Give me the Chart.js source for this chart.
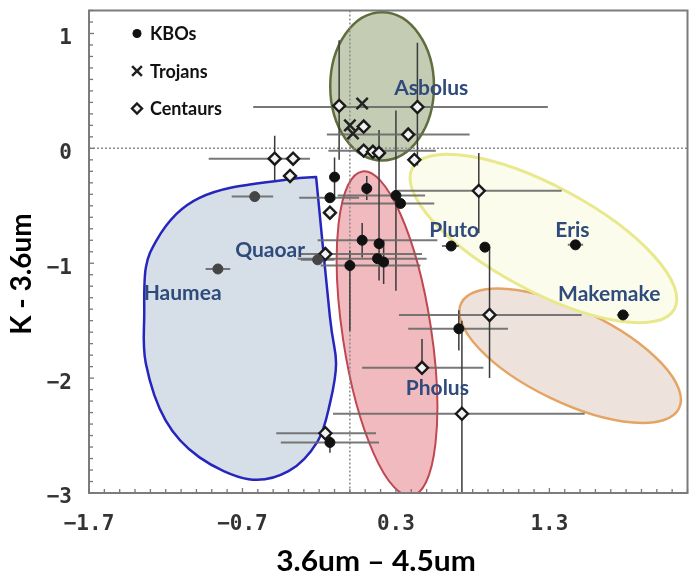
<!DOCTYPE html>
<html><head><meta charset="utf-8">
<script src="https://cdn.jsdelivr.net/npm/chart.js@4.4.0/dist/chart.umd.min.js"></script>
<style>html,body{margin:0;padding:0;background:#fff}</style>
</head><body>
<canvas id="c" width="698" height="580"></canvas>
<script>
// ---------- DATA ----------
// KBOs (filled circles)
const kboX   = [-0.10,-0.13, 0.11, 0.30, 0.33, 0.08, 0.19, 0.00, 0.18, 0.22, 0.66, 0.88, 1.47, 1.78, 0.71,-0.86,-0.21,-0.62,-0.13];
const kboY   = [-0.25,-0.43,-0.35,-0.41,-0.48,-0.80,-0.83,-1.02,-0.96,-0.99,-0.85,-0.86,-0.84,-1.45,-1.57,-1.05,-0.97,-0.42,-2.56];
const kboXLo = [ null,-0.33, null,-0.08,-0.05,-0.21, null,-0.19,-0.34, null, 0.60, null, 1.42, 1.74, 0.38,-0.94,-0.32,-0.77,-0.45];
const kboXHi = [ null, 0.06, null, 0.49, 0.55, 0.57, null, 0.46, 0.50, null, 0.71, null, 1.52, 1.82, 1.03,-0.78,-0.10,-0.50, 0.19];
const kboYLo = [-0.45, null,-0.45,-1.24, null,-0.95,-1.15,-1.59, null,-1.18, null, null, null, null,-1.76, null, null, null,-2.65];
const kboYHi = [-0.08, null,-0.24, 0.33, null,-0.65, 0.16,-0.89, null,-0.80, null, null, null, null,-1.41, null, null, null,-2.47];

// Trojans (crosses)
const troX = [0.08, 0.00, 0.02];
const troY = [0.39, 0.20, 0.13];

// Centaurs (diamonds)
const cenX   = [-0.07, 0.44, 0.38, 0.09, 0.09, 0.15, 0.19, 0.42, 0.84,-0.49,-0.37,-0.39,-0.13,-0.16, 0.91, 0.47, 0.73,-0.16];
const cenY   = [ 0.37, 0.36, 0.12, 0.19,-0.02,-0.03,-0.04,-0.10,-0.37,-0.09,-0.09,-0.24,-0.56,-0.92,-1.45,-1.91,-2.31,-2.48];
const cenXLo = [ null,-0.63,-0.15, null,-0.14, null, null, null, 0.31,-0.92, null, null, null,-0.32, 0.32, 0.08,-0.11,-0.48];
const cenXHi = [ null, 1.29, 0.78, null, 0.56, null, null, null, 1.38,-0.26, null, null, null, 0.47, 1.51, 0.87, 1.53, 0.17];
const cenYLo = [-0.10,-0.15, null, null, null, null, null, null,-0.74,-0.28, null, null, null, null,-2.00,-1.91,-3.00, null];
const cenYHi = [ 0.94, 0.92, null, null, null, null, null, null,-0.04, 0.11, null, null, null, null,-0.86,-1.66,-1.50, null];

// Object name labels (data coordinates)
const nameText = ['Asbolus','Quaoar','Haumea','Pluto','Eris','Makemake','Pholus'];
const nameX    = [0.53, -0.52, -1.09, 0.68, 1.45, 1.69, 0.57];
const nameY    = [0.52, -0.89, -1.26, -0.71, -0.71, -1.27, -2.09];

// Tick labels
const xTickLabels = [-1.7, -0.7, 0.3, 1.3];
const yTickLabels = [-3, -2, -1, 0, 1];

// Axis titles
const xTitle = '3.6um \u2013 4.5um';
const yTitle = 'K - 3.6um';

// Haumea region outline (data coordinates)
const haumeaX = [-0.22,-0.13,-0.09,-0.13,-0.21,-0.40,-0.66,-0.98,-1.20,-1.33,-1.34,-1.33,-1.26,-1.13,-0.98,-0.77,-0.40,-0.22];
const haumeaY = [-0.25,-1.47,-1.87,-2.22,-2.55,-2.81,-2.88,-2.69,-2.37,-1.87,-1.44,-1.04,-0.80,-0.57,-0.43,-0.34,-0.27,-0.25];

// Ellipse regions: centre, end of major semi-axis, minor/major ratio
const ellipseRegions = [
  {cx:1.435, cy:-1.805, ax:2.145, ay:-2.262, ratio:0.385, fill:'rgb(238,226,220)', stroke:'rgb(228,165,100)', w:2.5},
  {cx:1.261, cy:-0.785, ax:2.115, ay:-1.398, ratio:0.353, fill:'rgb(252,252,237)', stroke:'rgb(232,232,140)', w:3},
  {cx:0.242, cy:-1.613, ax:0.403, ay:-3.025, ratio:0.27,  fill:'rgb(241,186,190)', stroke:'rgb(192,72,82)',  w:2},
  {cx:0.21,  cy:0.54,   ax:0.21,  ay:1.185,  ratio:0.70,  fill:'rgb(196,205,180)', stroke:'rgb(95,110,60)',  w:2.5}
];

// KBO points drawn in a lighter shade (Haumea, Quaoar and neighbour)
const kboGreyIndex = [15, 16, 17];

// ---------- BUILD ----------
function pts(xs, ys, xl, xh, yl, yh) {
  return xs.map((x, i) => ({x, y: ys[i],
    xLo: xl ? xl[i] : null, xHi: xh ? xh[i] : null,
    yLo: yl ? yl[i] : null, yHi: yh ? yh[i] : null}));
}
const kboData = pts(kboX, kboY, kboXLo, kboXHi, kboYLo, kboYHi);
const troData = pts(troX, troY);
const cenData = pts(cenX, cenY, cenXLo, cenXHi, cenYLo, cenYHi);

const fmt = v => (v < 0 ? '\u2212' : '') + Math.abs(v);
function isMajor(list, v) { return list.some(t => Math.abs(t - v) < 1e-6); }

const regionsPlugin = {
  id: 'regions',
  beforeDatasetsDraw(chart) {
    const {ctx, chartArea: a, scales: {x: xs, y: ys}} = chart;
    ctx.save();
    ctx.beginPath(); ctx.rect(a.left, a.top, a.right - a.left, a.bottom - a.top); ctx.clip();
    // Haumea region (Catmull-Rom through outline)
    const P = haumeaX.map((x, i) => [xs.getPixelForValue(x), ys.getPixelForValue(haumeaY[i])]);
    ctx.beginPath();
    ctx.moveTo(P[0][0], P[0][1]);
    for (let i = 0; i < P.length - 1; i++) {
      const p0 = P[Math.max(i - 1, 0)], p1 = P[i], p2 = P[i + 1], p3 = P[Math.min(i + 2, P.length - 1)];
      const c1 = [p1[0] + (p2[0] - p0[0]) / 6, p1[1] + (p2[1] - p0[1]) / 6];
      const c2 = [p2[0] - (p3[0] - p1[0]) / 6, p2[1] - (p3[1] - p1[1]) / 6];
      ctx.bezierCurveTo(c1[0], c1[1], c2[0], c2[1], p2[0], p2[1]);
    }
    ctx.closePath();
    ctx.fillStyle = 'rgb(214,222,231)'; ctx.fill();
    ctx.lineWidth = 2.5; ctx.strokeStyle = 'rgb(38,38,190)'; ctx.lineJoin = 'round'; ctx.stroke();
    // ellipses
    ellipseRegions.forEach(e => {
      const cx = xs.getPixelForValue(e.cx), cy = ys.getPixelForValue(e.cy);
      const dx = xs.getPixelForValue(e.ax) - cx, dy = ys.getPixelForValue(e.ay) - cy;
      const r = Math.hypot(dx, dy);
      ctx.beginPath();
      ctx.ellipse(cx, cy, r, r * e.ratio, Math.atan2(dy, dx), 0, Math.PI * 2);
      ctx.fillStyle = e.fill; ctx.fill();
      ctx.lineWidth = e.w; ctx.strokeStyle = e.stroke; ctx.stroke();
    });
    // dotted zero lines
    ctx.setLineDash([2, 2]); ctx.lineWidth = 1.5; ctx.strokeStyle = '#8a8a8a';
    const x0 = xs.getPixelForValue(0), y0 = ys.getPixelForValue(0);
    ctx.beginPath(); ctx.moveTo(x0, a.top); ctx.lineTo(x0, a.bottom); ctx.stroke();
    ctx.beginPath(); ctx.moveTo(a.left, y0); ctx.lineTo(a.right, y0); ctx.stroke();
    ctx.setLineDash([]);
    // error bars
    chart.data.datasets.forEach(ds => {
      ds.data.forEach(p => {
        const px = xs.getPixelForValue(p.x), py = ys.getPixelForValue(p.y);
        if (p.xLo !== null && p.xHi !== null) {
          ctx.strokeStyle = 'rgba(105,105,105,0.9)'; ctx.lineWidth = 2;
          ctx.beginPath(); ctx.moveTo(xs.getPixelForValue(p.xLo), py); ctx.lineTo(xs.getPixelForValue(p.xHi), py); ctx.stroke();
        }
        if (p.yLo !== null && p.yHi !== null) {
          ctx.strokeStyle = '#3a3a3a'; ctx.lineWidth = 1.5;
          ctx.beginPath(); ctx.moveTo(px, ys.getPixelForValue(p.yLo)); ctx.lineTo(px, ys.getPixelForValue(p.yHi)); ctx.stroke();
        }
      });
    });
    ctx.restore();
  },
  afterDraw(chart) {
    const {ctx, chartArea: a, scales: {x: xs, y: ys}} = chart;
    ctx.save();
    // frame
    ctx.strokeStyle = '#7c7c7c'; ctx.lineWidth = 2;
    ctx.strokeRect(a.left, a.top, a.right - a.left, a.bottom - a.top);
    // inward tick marks
    ctx.strokeStyle = '#777'; ctx.lineWidth = 1.3;
    xs.ticks.forEach(t => {
      const px = xs.getPixelForValue(t.value), L = isMajor(xTickLabels, t.value) ? 5 : 4;
      ctx.beginPath(); ctx.moveTo(px, a.bottom); ctx.lineTo(px, a.bottom - L); ctx.stroke();
    });
    ys.ticks.forEach(t => {
      const py = ys.getPixelForValue(t.value), L = isMajor(yTickLabels, t.value) ? 5 : 4;
      ctx.beginPath(); ctx.moveTo(a.left, py); ctx.lineTo(a.left + L, py); ctx.stroke();
    });
    // name labels
    ctx.font = 'bold 21px Lato'; ctx.fillStyle = '#2f4b7c'; ctx.textAlign = 'center'; ctx.textBaseline = 'middle';
    nameText.forEach((s, i) => ctx.fillText(s, xs.getPixelForValue(nameX[i]), ys.getPixelForValue(nameY[i])));
    // legend
    const ds = chart.data.datasets;
    ctx.font = 'bold 18px Lato'; ctx.textAlign = 'left';
    ds.forEach((d, i) => {
      const mx = a.left + 48, my = a.top + 23 + i * 37.5;
      ctx.fillStyle = '#111'; ctx.strokeStyle = d.borderColor; ctx.lineWidth = d.borderWidth;
      ctx.beginPath();
      if (d.pointStyle === 'circle') { ctx.arc(mx, my, d.legendRadius, 0, Math.PI * 2); ctx.fill(); }
      else if (d.pointStyle === 'crossRot') { const r = d.legendRadius * 0.7; ctx.moveTo(mx - r, my - r); ctx.lineTo(mx + r, my + r); ctx.moveTo(mx + r, my - r); ctx.lineTo(mx - r, my + r); ctx.stroke(); }
      else { const r = d.legendRadius; ctx.fillStyle = d.backgroundColor; ctx.moveTo(mx, my - r); ctx.lineTo(mx + r, my); ctx.lineTo(mx, my + r); ctx.lineTo(mx - r, my); ctx.closePath(); ctx.fill(); ctx.stroke(); }
      ctx.fillStyle = '#111';
      ctx.fillText(d.label, mx + 13, my + 1);
    });
    // axis titles
    ctx.font = 'bold 28px Lato'; ctx.fillStyle = '#000'; ctx.textAlign = 'center'; ctx.textBaseline = 'middle';
    ctx.save();
    ctx.translate(376, 562); ctx.scale(1.07, 1);
    ctx.fillText(xTitle, 0, 0);
    ctx.restore();
    ctx.save();
    ctx.translate(22, 274); ctx.rotate(-Math.PI / 2);
    ctx.fillText(yTitle, 0, 0);
    ctx.restore();
    ctx.restore();
  }
};

new Chart(document.getElementById('c'), {
  type: 'scatter',
  data: {datasets: [
    {label: 'KBOs', data: kboData, pointStyle: 'circle', pointRadius: 5, legendRadius: 4.5,
     backgroundColor: c => kboGreyIndex.includes(c.dataIndex) ? '#454545' : '#111',
     borderColor: c => kboGreyIndex.includes(c.dataIndex) ? '#454545' : '#111', borderWidth: 1},
    {label: 'Trojans', data: troData, pointStyle: 'crossRot', pointRadius: 8, legendRadius: 7,
     backgroundColor: '#222', borderColor: '#222', borderWidth: 2.5},
    {label: 'Centaurs', data: cenData, pointStyle: 'rectRot', pointRadius: 6, legendRadius: 5,
     backgroundColor: '#f2f2f2', borderColor: '#1a1a1a', borderWidth: 2.4}
  ]},
  options: {
    responsive: false, animation: false, devicePixelRatio: 1,
    layout: {padding: {top: 10, right: 3, left: 0, bottom: 0}},
    plugins: {legend: {display: false}, tooltip: {enabled: false}},
    scales: {
      x: {
        type: 'linear', min: -1.7, max: 2.2,
        afterBuildTicks: s => { const t = []; for (let k = 0; k <= 39; k++) t.push({value: Math.round((-1.7 + k * 0.1) * 10) / 10}); s.ticks = t; },
        afterFit: s => { s.height = 87; s.paddingLeft = 0; s.paddingRight = 0; },
        grid: {display: false, drawTicks: false}, border: {display: false},
        ticks: {autoSkip: false, maxRotation: 0, padding: 19, color: '#333',
          font: {family: 'DejaVu Sans Mono', weight: 'bold', size: 21},
          callback: v => isMajor(xTickLabels, v) ? fmt(v.toFixed(1)) : ''},
        title: {display: false}
      },
      y: {
        type: 'linear', min: -3, max: 1.2,
        afterBuildTicks: s => { const t = []; for (let k = 0; k <= 42; k++) t.push({value: Math.round((-3 + k * 0.1) * 10) / 10}); s.ticks = t; },
        afterFit: s => { s.width = 89; s.paddingTop = 0; s.paddingBottom = 0; },
        grid: {display: false, drawTicks: false}, border: {display: false},
        ticks: {autoSkip: false, padding: 17, labelOffset: 5, color: '#333',
          font: {family: 'DejaVu Sans Mono', weight: 'bold', size: 21},
          callback: v => isMajor(yTickLabels, v) ? fmt(v) : ''},
        title: {display: false}
      }
    }
  },
  plugins: [regionsPlugin]
});
</script>
</body></html>
